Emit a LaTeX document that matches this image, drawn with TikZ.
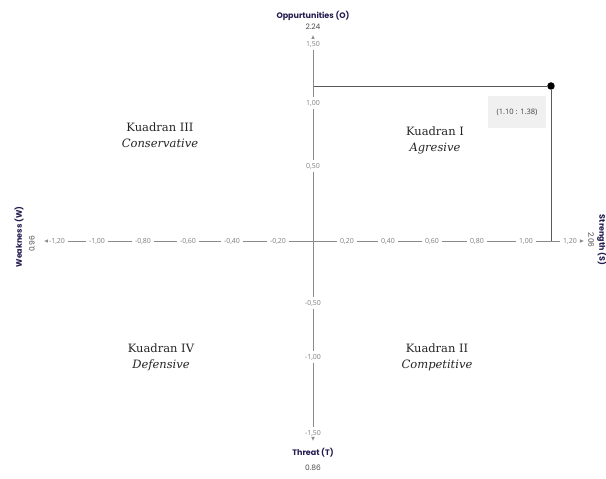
\documentclass[tikz,border=0pt]{standalone}
\usepackage{fontspec}
\setmainfont{DejaVu Serif}
\newfontfamily\ticksf{Open Sans}
\newfontfamily\titlesf{Poppins}
\usetikzlibrary{arrows.meta}
\definecolor{axisgray}{HTML}{8A8A8A}
\definecolor{tickgray}{HTML}{7E7E7E}
\definecolor{navy}{HTML}{241C4F}
\definecolor{boxgray}{HTML}{F0F0F0}

\begin{document}
\begin{tikzpicture}[
  x=1pt, y=1pt,
  tick/.style={
    font=\ticksf\fontsize{7}{8}\selectfont,
    text=tickgray,
    inner sep=2.5pt
  },
  axisline/.style={draw=axisgray, line width=0.7pt},
  axisarrow/.style={axisline, -{Latex[length=4pt,width=3.6pt]}},
  axistitle/.style={
    font=\titlesf\bfseries\fontsize{8}{9}\selectfont,
    text=navy,
    inner sep=0pt
  },
  axisvalue/.style={
    font=\titlesf\fontsize{7.5}{8}\selectfont,
    text=black!70,
    inner sep=0pt
  },
  quadrant/.style={
    align=center,
    font=\fontsize{11.5}{16}\selectfont,
    text=black!85
  },
  guide/.style={draw=black!65, line width=0.7pt},
  dot/.style={circle, fill=black, inner sep=0pt, minimum size=7.5pt},
  coordbox/.style={
    fill=boxgray,
    minimum width=58pt,
    minimum height=32pt,
    inner sep=0pt,
    font=\ticksf\fontsize{7.5}{8}\selectfont,
    text=black!75
  }
]
\path[use as bounding box, fill=white] (-313,-238) rectangle (293,241);

% Origin and axis tips
\coordinate (origin) at (0,0);
\coordinate (wtip) at (-269,0);
\coordinate (stip) at (271,0);
\coordinate (otip) at (0,206);
\coordinate (ttip) at (0,-200);

% Horizontal tick labels
\node[tick] (hm120) at (-256,0) {-1,20};
\node[tick] (hm100) at (-216,0) {-1,00};
\node[tick] (hm080) at (-170,0) {-0,80};
\node[tick] (hm060) at (-125,0) {-0,60};
\node[tick] (hm040) at (-81,0) {-0,40};
\node[tick] (hm020) at (-35,0) {-0,20};
\node[tick] (hp020) at (34,0) {0,20};
\node[tick] (hp040) at (75,0) {0,40};
\node[tick] (hp060) at (119,0) {0,60};
\node[tick] (hp080) at (164,0) {0,80};
\node[tick] (hp100) at (213,0) {1,00};
\node[tick] (hp120) at (257,0) {1,20};

% Vertical tick labels
\node[tick] (vp150) at (0,197) {1,50};
\node[tick] (vp100) at (0,138) {1,00};
\node[tick] (vp050) at (0,75) {0,50};
\node[tick] (vm050) at (0,-62) {-0,50};
\node[tick] (vm100) at (0,-116) {-1,00};
\node[tick] (vm150) at (0,-192) {-1,50};

% Axis titles and values
\node[axistitle] (otitle) at (0,225) {Oppurtunities (O)};
\node[axisvalue] (ovalue) at (0,214) {2.24};
\node[axistitle] (ttitle) at (0,-212) {Threat (T)};
\node[axisvalue] (tvalue) at (0,-227) {0.86};
\node[axistitle, rotate=90] (wtitle) at (-294,4) {Weakness (W)};
\node[axisvalue, rotate=90] (wvalue) at (-281,-3) {0.96};
\node[axistitle, rotate=-90] (stitle) at (289,1) {Strength (S)};
\node[axisvalue, rotate=-90] (svalue) at (278,1) {2.06};

% Quadrants
\node[quadrant] (kuadran3) at (-153,106) {Kuadran III\\\textit{Conservative}};
\node[quadrant] (kuadran1) at (122,101) {Kuadran I\\\textit{Agresive}};
\node[quadrant] (kuadran4) at (-152,-116) {Kuadran IV\\\textit{Defensive}};
\node[quadrant] (kuadran2) at (124,-116) {Kuadran II\\\textit{Competitive}};

% Position point
\node[dot] (pt) at (238,155) {};
\node[coordbox] (ptlabel) at (204,129) {(1.10 : 1.38)};
\draw[guide] (pt -| origin) -- (pt) -- (pt |- origin);

% Axes
\draw[axisline] (hm120) -- (hm100) -- (hm080) -- (hm060) -- (hm040) -- (hm020)
  -- (hp020) -- (hp040) -- (hp060) -- (hp080) -- (hp100) -- (hp120);
\draw[axisline] (vp150) -- (vp100) -- (vp050) -- (vm050) -- (vm100) -- (vm150);
\draw[axisarrow] (hm120) -- (wtip);
\draw[axisarrow] (hp120) -- (stip);
\draw[axisarrow] (vp150) -- (otip);
\draw[axisarrow] (vm150) -- (ttip);
\end{tikzpicture}
\end{document}
